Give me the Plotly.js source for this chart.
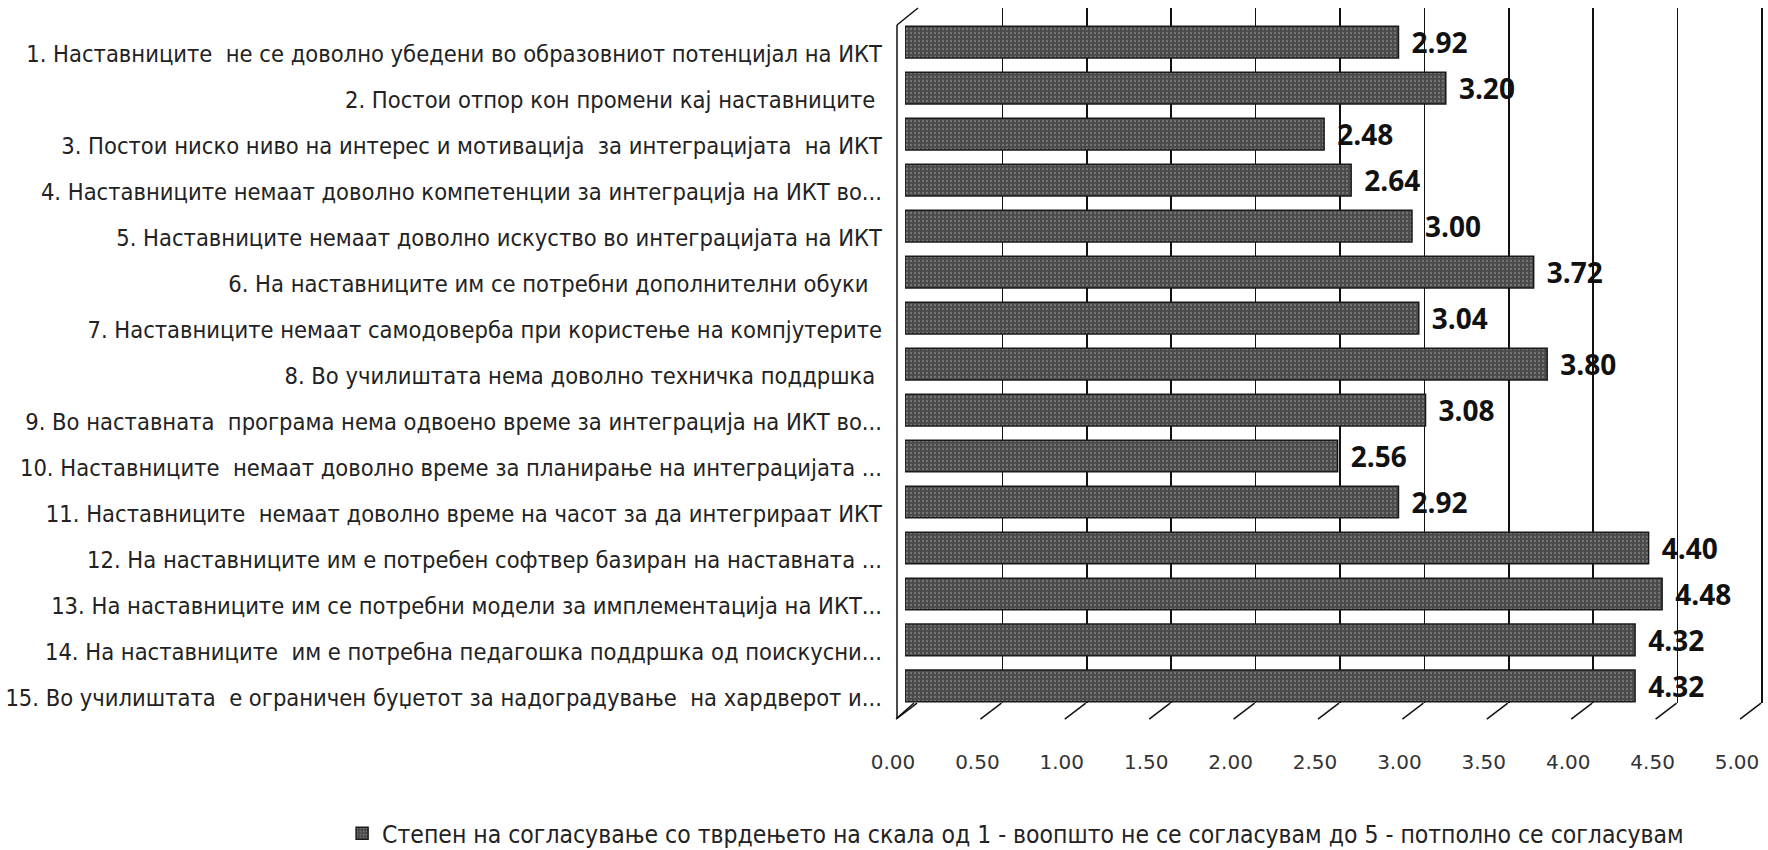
<!DOCTYPE html>
<html>
<head>
<meta charset="utf-8">
<script src="https://cdn.plot.ly/plotly-3.0.1.min.js"></script>
<style>html,body{margin:0;padding:0;background:#fff;}#chart{width:1768px;height:850px;}</style>
</head>
<body>
<div id="chart"></div>
<script>
const categories = [
  "1. Наставниците  не се доволно убедени во образовниот потенцијал на ИКТ",
  "2. Постои отпор кон промени кај наставниците\u00a0",
  "3. Постои ниско ниво на интерес и мотивација  за интеграцијата  на ИКТ",
  "4. Наставниците немаат доволно компетенции за интеграција на ИКТ во...",
  "5. Наставниците немаат доволно искуство во интеграцијата на ИКТ",
  "6. На наставниците им се потребни дополнителни обуки\u00a0\u00a0",
  "7. Наставниците немаат самодоверба при користење на компјутерите",
  "8. Во училиштата нема доволно техничка поддршка\u00a0",
  "9. Во наставната  програма нема одвоено време за интеграција на ИКТ во...",
  "10. Наставниците  немаат доволно време за планирање на интеграцијата ...",
  "11. Наставниците  немаат доволно време на часот за да интегрираат ИКТ",
  "12. На наставниците им е потребен софтвер базиран на наставната ...",
  "13. На наставниците им се потребни модели за имплементација на ИКТ...",
  "14. На наставниците  им е потребна педагошка поддршка од поискусни...",
  "15. Во училиштата  е ограничен буџетот за надоградување  на хардверот и..."
];
const values = [2.92, 3.20, 2.48, 2.64, 3.00, 3.72, 3.04, 3.80, 3.08, 2.56, 2.92, 4.40, 4.48, 4.32, 4.32];
const seriesName = "Степен на согласување со тврдењето на скала од 1 - воопшто не се согласувам до 5 - потполно се согласувам";
const xRange = [0, 5];
const xStep = 0.5;
const tickValues = [0, 0.5, 1, 1.5, 2, 2.5, 3, 3.5, 4, 4.5, 5];
const gridMax = 5.02;

const labelFont = '"DejaVu Sans Condensed", "Liberation Sans Narrow", sans-serif';

const traces = [
  // back wall (gridlines) subplot
  {type: 'scatter', x: [], y: [], xaxis: 'x', yaxis: 'y', showlegend: false, hoverinfo: 'skip'},
  // bars
  {
    type: 'bar', orientation: 'h',
    x: values, y: categories, xaxis: 'x2', yaxis: 'y2',
    name: seriesName,
    marker: {
      color: '#505050',
      line: {color: '#1a1a1a', width: 1.5},
      pattern: {shape: '.', fgcolor: '#777777', bgcolor: '#4a4a4a', size: 4, solidity: 0.25}
    },
    texttemplate: '\u00a0\u200a%{x:.2f}',
    textposition: 'outside',
    constraintext: 'none',
    cliponaxis: false,
    textfont: {family: '"Open Sans", sans-serif', size: 28, color: '#111', weight: 'bold'},
    hoverinfo: 'x+y'
  },
  // front tick labels subplot
  {type: 'scatter', x: [], y: [], xaxis: 'x3', yaxis: 'y3', showlegend: false, hoverinfo: 'skip'}
];

// 3D frame edges, positioned on the back-wall axis domain with pixel offsets
const frameLine = {color: '#111', width: 1.5};
const shapes = [];
tickValues.forEach(function (t) {
  shapes.push({type: 'line', xref: 'x domain', yref: 'y domain', xsizemode: 'pixel', ysizemode: 'pixel',
    xanchor: t / gridMax, yanchor: 0, x0: -1, y0: 0, x1: -22, y1: -16, line: frameLine, layer: 'above'});
});
shapes.push({type: 'line', xref: 'x domain', yref: 'y domain', xsizemode: 'pixel', ysizemode: 'pixel',
  xanchor: 0, yanchor: 0, x0: -21, y0: -15, x1: -21, y1: 678, line: frameLine, layer: 'above'});
shapes.push({type: 'line', xref: 'x domain', yref: 'y domain', xsizemode: 'pixel', ysizemode: 'pixel',
  xanchor: 0, yanchor: 0, x0: -21, y0: 678, x1: 0, y1: 695, line: frameLine, layer: 'above'});
shapes.push({type: 'line', xref: 'x domain', yref: 'y domain', xsizemode: 'pixel', ysizemode: 'pixel',
  xanchor: 0, yanchor: 0, x0: -21, y0: -15, x1: -4, y1: 0, line: frameLine, layer: 'above'});

const layout = {
  width: 1768, height: 850,
  margin: {l: 0, r: 0, t: 0, b: 0, pad: 0, autoexpand: false},
  paper_bgcolor: '#ffffff',
  plot_bgcolor: 'rgba(0,0,0,0)',
  bargap: 0.31,
  showlegend: true,
  shapes: shapes,
  legend: {
    orientation: 'h', x: 0.1935, xanchor: 'left', y: -0.0068, yanchor: 'bottom',
    font: {family: labelFont, size: 24.5, color: '#222'},
    bgcolor: 'rgba(0,0,0,0)'
  },
  xaxis: {
    domain: [918/1768, (918 + gridMax*168.8)/1768], anchor: 'y',
    range: [0, gridMax], tickvals: tickValues,
    showgrid: true, gridcolor: '#111', gridwidth: 1.5,
    zeroline: false, showticklabels: false, ticks: '', showline: false, fixedrange: true
  },
  yaxis: {
    domain: [0.1729, 0.9906], anchor: 'x', range: [0, 1],
    showgrid: false, zeroline: false, showticklabels: false, ticks: '', showline: false, fixedrange: true
  },
  xaxis2: {
    domain: [905/1768, 1750/1768], anchor: 'y2',
    range: xRange, showgrid: false, zeroline: false, showticklabels: false, ticks: '', showline: false, fixedrange: true
  },
  yaxis2: {
    domain: [0.1659, 0.9776], anchor: 'x2',
    type: 'category', categoryorder: 'array', categoryarray: categories, autorange: 'reversed',
    showgrid: false, zeroline: false, ticks: '', showline: false,
    ticklabelstandoff: 22, ticklabelshift: -12, automargin: false,
    tickfont: {family: labelFont, size: 23.5, color: '#222'}
  },
  xaxis3: {
    domain: [893/1768, 1737/1768], anchor: 'y3',
    range: xRange, dtick: xStep, tick0: 0, tickformat: '.2f',
    showgrid: false, zeroline: false, ticks: '', showline: false,
    ticklabelstandoff: 35, automargin: false,
    tickfont: {family: '"DejaVu Sans", sans-serif', size: 20, color: '#333'}, fixedrange: true
  },
  yaxis3: {
    domain: [0.161, 0.2], anchor: 'x3', range: [0, 1],
    showgrid: false, zeroline: false, showticklabels: false, ticks: '', showline: false, fixedrange: true
  }
};

Plotly.newPlot('chart', traces, layout, {displayModeBar: false, staticPlot: true});
</script>
</body>
</html>
